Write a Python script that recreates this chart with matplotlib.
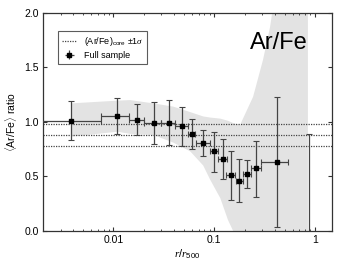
import matplotlib
matplotlib.use("Agg")
import matplotlib.pyplot as plt
import numpy as np
from matplotlib.lines import Line2D

plt.rcParams['font.family'] = ['Liberation Sans', 'DejaVu Sans']
plt.rcParams['mathtext.fontset'] = 'custom'
plt.rcParams['mathtext.rm'] = 'Liberation Sans'
plt.rcParams['mathtext.it'] = 'Liberation Serif:italic'

# data points
r = [0.00384, 0.0109, 0.0172, 0.0251, 0.0353, 0.0474, 0.0596, 0.0773, 0.100, 0.122, 0.146, 0.178, 0.211, 0.260, 0.418]
ratio = [1.01, 1.058, 1.02, 0.988, 0.988, 0.96, 0.89, 0.81, 0.731, 0.66, 0.514, 0.461, 0.52, 0.575, 0.633]
y_hi = [1.19, 1.223, 1.162, 1.18, 1.199, 1.14, 1.025, 0.924, 0.911, 0.841, 0.737, 0.657, 0.65, 0.826, 1.232]
y_lo = [0.835, 0.89, 0.878, 0.80, 0.789, 0.78, 0.755, 0.688, 0.541, 0.474, 0.284, 0.263, 0.39, 0.315, 0.04]
r_lo = [0.0019, 0.0076, 0.0142, 0.0203, 0.0300, 0.0404, 0.0550, 0.0664, 0.091, 0.108, 0.131, 0.165, 0.195, 0.234, 0.290]
r_hi = [0.0076, 0.0142, 0.0203, 0.0297, 0.0404, 0.0550, 0.0650, 0.090, 0.108, 0.133, 0.161, 0.195, 0.230, 0.290, 0.545]

# outermost point (off scale)
r_out = 0.873
ratio_out = -0.5
y_hi_out = 0.89

# core ratio +/- 1 sigma
core = 0.88
core_sig = 0.097

# scatter band
band_r = [0.00384, 0.0110, 0.0147, 0.0249, 0.0393, 0.0578, 0.0778, 0.0912, 0.115, 0.137, 0.154, 0.18, 0.243, 0.305, 0.358, 0.39, 0.85]
band_hi = [1.17, 1.195, 1.2, 1.17, 1.14, 1.09, 1.05, 1.04, 1.03, 1.01, 0.99, 0.97, 1.23, 1.57, 1.87, 2.1, 3.0]
band_lo = [0.865, 0.91, 0.89, 0.88, 0.81, 0.73, 0.60, 0.47, 0.30, 0.10, 0.0, 0.0, 0.0, 0.0, 0.0, 0.0, 0.0]

fig = plt.figure(figsize=(3.49, 2.63), dpi=100)
ax = fig.add_axes([0.123, 0.122, 0.828, 0.829])

ax.fill_between(band_r, band_lo, band_hi, color='#e3e3e3', lw=0, zorder=1)

for v in (core - core_sig, core, core + core_sig):
    ax.axhline(v, color='#444444', ls=(0, (1, 1)), lw=0.9, zorder=2)

r_arr = np.array(r)
xerr = [r_arr - np.array(r_lo), np.array(r_hi) - r_arr]
yerr = [np.array(ratio) - np.array(y_lo), np.array(y_hi) - np.array(ratio)]
ax.errorbar(r, ratio, xerr=xerr, yerr=yerr, fmt='s', ms=3.5, color='black',
            ecolor='#444444', elinewidth=0.9, capsize=2, capthick=0.8, zorder=3)
ax.errorbar([r_out], [ratio_out], yerr=[[0], [y_hi_out - ratio_out]], fmt='s', ms=3.5,
            color='black', ecolor='#444444', elinewidth=0.9, capsize=2, capthick=0.8, zorder=3)

ax.set_xscale('log')
ax.set_xlim(0.002, 1.47)
ax.set_ylim(0, 2.0)
ax.set_xticks([0.01, 0.1, 1])
ax.set_xticklabels(['0.01', '0.1', '1'])
ax.set_yticks([0, 0.5, 1.0, 1.5, 2.0])
ax.set_yticklabels(['0.0', '0.5', '1.0', '1.5', '2.0'])
ax.tick_params(which='both', direction='in', top=True, right=True, labelsize=7.5, color='#333333')
ax.tick_params(which='major', length=3, pad=3)
ax.tick_params(which='minor', length=1.5)
for s in ax.spines.values():
    s.set_color('#333333')
    s.set_linewidth(0.9)

ax.set_xlabel(r'$\mathit{r/r}_{500}$', fontsize=8, labelpad=2)
ax.set_ylabel(r'$\langle$Ar/Fe$\rangle$ ratio', fontsize=7.5, labelpad=4)

ax.text(0.915, 0.86, 'Ar/Fe', transform=ax.transAxes, ha='right', va='center', fontsize=17)

h1 = Line2D([], [], color='#444444', ls=(0, (1, 1)), lw=0.9)
h2 = ax.errorbar([], [], xerr=[], yerr=[], fmt='s', ms=3.5, color='black', ecolor='#444444',
                 elinewidth=0.9, capsize=1.5)
leg = ax.legend([h1, h2], [r'(Ar/Fe)$_{\rm core}$ $\pm1\sigma$', 'Full sample'],
                loc='upper left', bbox_to_anchor=(0.052, 0.917), borderaxespad=0,
                fontsize=6.5, frameon=True, fancybox=False, edgecolor='#333333',
                handlelength=1.6, borderpad=0.45, labelspacing=0.3, handletextpad=0.8)
leg.get_frame().set_linewidth(0.8)

fig.savefig('out.png', dpi=100)
